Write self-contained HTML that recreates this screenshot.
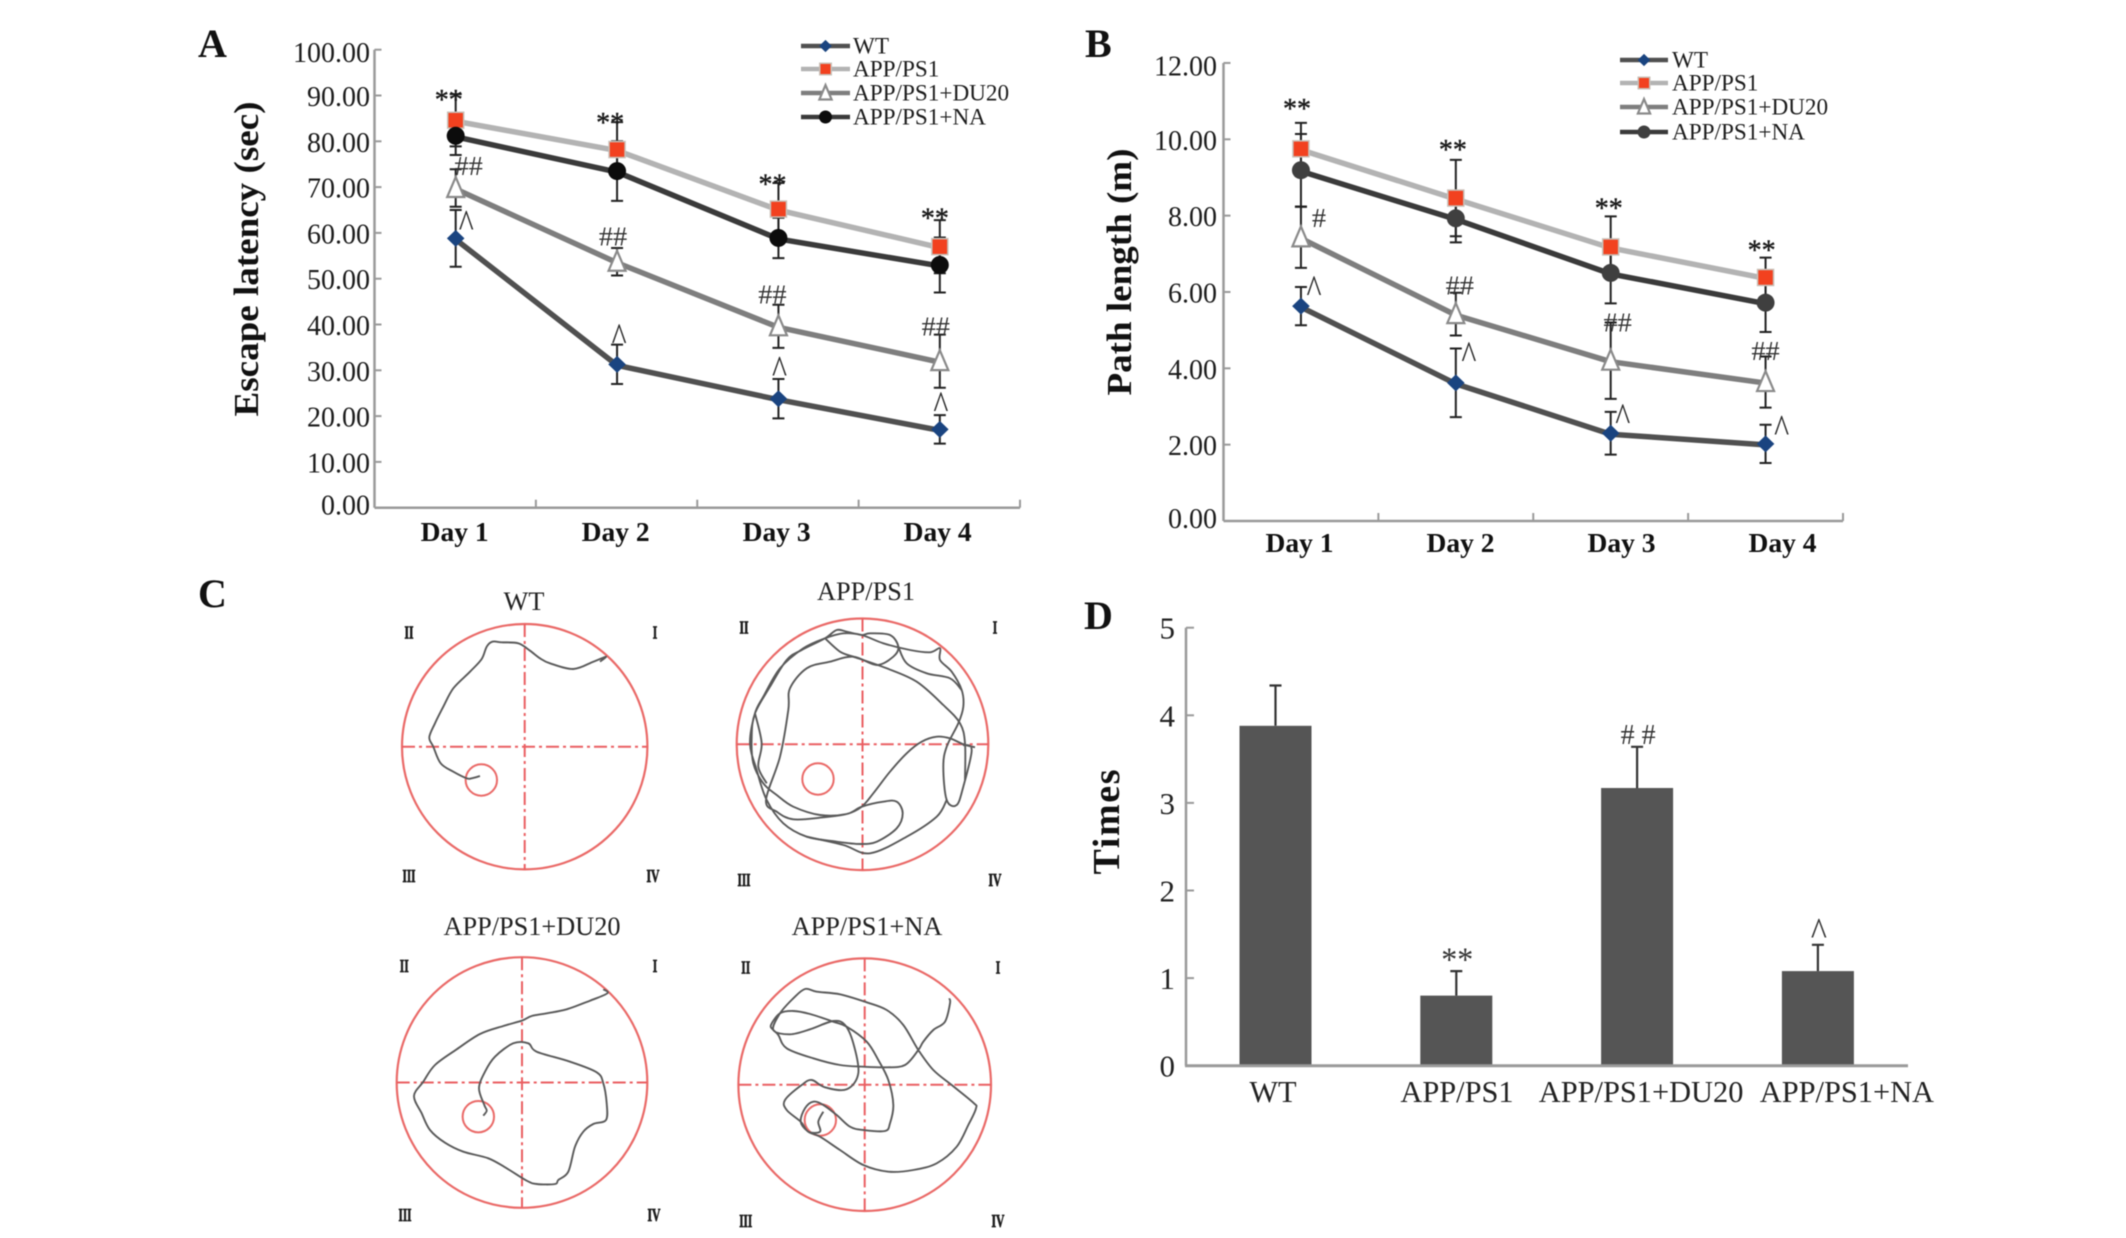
<!DOCTYPE html>
<html lang="en">
<head>
<meta charset="utf-8">
<title>Morris water maze results</title>
<style>
html,body{margin:0;padding:0;background:#fff;}
svg{display:block;font-family:"Liberation Serif",serif;filter:blur(.45px);}
</style>
</head>
<body>
<svg id="figure" xmlns="http://www.w3.org/2000/svg" width="2126" height="1238" viewBox="0 0 2126 1238">
  <rect width="2126" height="1238" fill="#fff"/>
  <text x="198" y="57" font-size="40" font-weight="bold" fill="#111">A</text>
  <text x="1085" y="57" font-size="40" font-weight="bold" fill="#111">B</text>
  <text x="198" y="607" font-size="40" font-weight="bold" fill="#111">C</text>
  <text x="1084" y="629" font-size="40" font-weight="bold" fill="#111">D</text>
  <g id="panel-a"></g>
  <g id="panel-b"></g>
  <g id="panel-c"></g>
  <g id="panel-d"></g>
</svg>
<script>
// ---------- Shared categories ----------
const days = ['Day 1', 'Day 2', 'Day 3', 'Day 4'];
const groups = ['WT', 'APP/PS1', 'APP/PS1+DU20', 'APP/PS1+NA'];

// ---------- Panel A: escape latency ----------
const latencyTicks = ['0.00', '10.00', '20.00', '30.00', '40.00', '50.00', '60.00', '70.00', '80.00', '90.00', '100.00'];
const latencyWT = [58.8, 31.3, 23.8, 17.1];
const latencyAPP = [84.6, 78.2, 65.2, 57.0];
const latencyDU = [69.8, 53.7, 39.6, 32.0];
const latencyNA = [81.2, 73.5, 58.9, 53.0];
const latencyErrWT = [6.2, 4.3, 4.3, 3.1];
const latencyErrAPP = [5.7, 6.0, 5.7, 5.8];
const latencyErrDU = [4.1, 3.0, 4.7, 5.8];
const latencyErrNA = [4.2, 6.5, 4.4, 6.0];
const latencyStars = [89.9, 84.9, 71.5, 64.0];
const latencyHashes = [74.7, 59.2, 46.6, 39.6];
const latencyCarets = [63.0, 38.2, 31.1, 23.4];

// ---------- Panel B: path length ----------
const pathTicks = ['0.00', '2.00', '4.00', '6.00', '8.00', '10.00', '12.00'];
const pathWT = [5.63, 3.62, 2.30, 2.02];
const pathAPP = [9.75, 8.46, 7.18, 6.38];
const pathDU = [7.43, 5.42, 4.20, 3.64];
const pathNA = [9.19, 7.93, 6.50, 5.72];
const pathErrWT = [0.50, 0.90, 0.56, 0.50];
const pathErrAPP = [0.68, 1.00, 0.80, 0.52];
const pathErrDU = [0.80, 0.56, 1.00, 0.67];
const pathErrNA = [0.95, 0.63, 0.80, 0.77];
const pathStars = [10.9, 9.83, 8.3, 7.19];
const pathHashes = [7.94, 6.17, 5.2, 4.46];
const pathCarets = [6.19, 4.46, 2.84, 2.54];

// ---------- Panel D: crossing times ----------
const timesTicks = ['0', '1', '2', '3', '4', '5'];
const timesValues = [3.88, 0.80, 3.17, 1.08];
const timesErrors = [0.46, 0.28, 0.47, 0.30];
const timesMarks = ['', '**', '##', '^'];
const timesMarkLevels = [0, 1.27, 3.78, 1.6];

// ---------- Panel C: swim paths traced in each well's 810-unit frame ----------
const trackWT = [[630,155],[648,140],[610,155],[550,177],[480,160],[450,145],[420,122],[385,100],[335,97],[307,95],[290,110],[275,147],[240,185],[190,235],[160,290],[135,340],[118,382],[130,410],[152,460],[190,485],[230,505],[245,505],[270,498]];
const trackAPP1 = [[735,412],[700,403],[660,385],[620,380],[575,395],[530,430],[480,485],[430,550],[395,590],[350,612],[280,622],[190,628],[140,605],[108,570],[150,440],[175,300],[180,235],[230,175],[300,155],[370,140],[440,165],[490,140],[505,110],[480,75],[420,70],[395,75],[350,65],[320,60],[285,85],[215,120],[170,150],[120,230],[75,310],[65,380],[70,460],[100,520],[140,555],[190,590],[270,615],[350,612],[395,590],[460,575],[500,575],[518,610],[500,655],[440,695],[390,702],[320,695],[230,680],[160,640],[110,570],[80,480],[60,400],[75,310],[100,260],[150,175],[220,115],[285,85],[340,70],[395,75],[460,100],[540,120],[600,127],[630,115],[630,150],[665,185],[695,240],[700,290],[685,340],[650,410],[640,470],[650,570],[680,585],[700,530],[725,420],[700,405]];
const trackAPP2 = [[370,140],[470,175],[560,215],[640,285],[690,340],[705,400],[705,510]];
const trackAPP3 = [[650,570],[620,620],[530,680],[420,730],[340,705],[230,680]];
const trackAPP4 = [[285,85],[330,125],[370,140]];
const trackAPP5 = [[505,110],[530,160],[590,190],[660,205],[695,240]];
const trackAPP6 = [[75,310],[95,400],[85,470],[110,520]];
const trackDU = [[640,118],[652,130],[600,152],[530,178],[470,190],[425,198],[395,212],[340,228],[270,252],[200,298],[135,345],[100,395],[72,438],[95,490],[120,540],[165,578],[220,605],[295,625],[350,655],[410,692],[440,702],[495,702],[505,690],[535,665],[555,590],[580,545],[610,522],[648,510],[650,460],[640,400],[620,367],[540,335],[440,305],[415,280],[370,280],[315,320],[285,365],[267,415],[283,465],[290,482],[280,497]];
const trackNA = [[658,145],[660,160],[645,215],[610,240],[580,275],[565,300],[525,345],[470,352],[400,350],[330,345],[250,325],[170,295],[145,255],[130,240],[123,225],[150,190],[190,183],[240,192],[310,215],[350,230],[410,275],[445,330],[475,390],[490,465],[480,520],[465,543],[400,540],[360,530],[320,495],[280,465],[250,455],[225,475],[212,515],[235,545],[270,560],[330,600],[400,645],[475,665],[550,660],[620,640],[680,590],[715,525],[738,475],[730,458],[665,405],[610,360],[565,300],[520,225],[470,180],[410,157],[330,133],[260,125],[225,117],[190,145],[150,190],[130,240],[180,253],[240,238],[310,213],[345,225],[370,280],[385,370],[350,418],[285,412],[245,390],[215,405],[165,450],[170,480],[212,515],[235,545],[270,545],[265,515],[280,485]];

// ---------- Helpers ----------
const SVGNS = 'http://www.w3.org/2000/svg';
function mk(tag, parent, attrs, content) {
  const node = document.createElementNS(SVGNS, tag);
  for (const k in attrs) node.setAttribute(k, attrs[k]);
  if (content !== undefined) node.textContent = content;
  parent.appendChild(node);
  return node;
}

// Line-chart series styles
const seriesStyles = [
  {line: '#505050', marker: 'diamond', fill: '#1a4480', stroke: '#1a4480'},
  {line: '#b3b3b3', marker: 'square', fill: '#f2411f', stroke: '#c9c0b8'},
  {line: '#7e7e7e', marker: 'triangle', fill: '#ffffff', stroke: '#8a8a8a'},
  {line: '#3a3a3a', marker: 'circle', fill: '#0c0c0c', stroke: '#222222'}
];

function drawMarker(parent, style, x, y, scale, circleFill) {
  let m;
  if (style.marker === 'diamond') {
    m = mk('polygon', parent, {points: `${x},${y-8.5*scale} ${x+8.8*scale},${y} ${x},${y+8.5*scale} ${x-8.8*scale},${y}`, fill: style.fill});
  } else if (style.marker === 'square') {
    m = mk('rect', parent, {x: x-8*scale, y: y-8*scale, width: 16*scale, height: 16*scale, fill: style.fill, stroke: style.stroke, 'stroke-width': 1.5});
  } else if (style.marker === 'triangle') {
    m = mk('polygon', parent, {points: `${x},${y-11*scale} ${x+8.5*scale},${y+9*scale} ${x-8.5*scale},${y+9*scale}`, fill: style.fill, stroke: style.stroke, 'stroke-width': 2.2});
  } else {
    m = mk('circle', parent, {cx: x, cy: y, r: 9*scale, fill: circleFill || style.fill});
  }
  return m;
}

function drawLineChart(cfg) {
  const g = cfg.root;
  const xBand = (cfg.xRight - cfg.xLeft) / cfg.categories.length;
  const xAt = i => cfg.xLeft + xBand * (i + 0.5) + cfg.pointShift;
  const yAt = v => cfg.y0 - v * cfg.yPerUnit;

  // Axes
  const yAxis = mk('line', g, {x1: cfg.xLeft, x2: cfg.xLeft, y1: yAt(cfg.yMax), y2: cfg.y0, stroke: '#9a9a9a', 'stroke-width': 2.5});
  
  
  const xAxis = mk('line', g, {x1: cfg.xLeft, x2: cfg.xRight, y1: cfg.y0, y2: cfg.y0, stroke: '#9a9a9a', 'stroke-width': 2.5});
  
  

  cfg.ticks.forEach(label => {
    const v = parseFloat(label);
    const y = yAt(v);
    const tick = mk('line', g, {x1: cfg.xLeft, x2: cfg.xLeft + 7, y1: y, y2: y, stroke: '#9a9a9a', 'stroke-width': 2});
    
    
    const nudge = v === cfg.yMax ? 3 : v === 0 ? -2.5 : 1;
    const t = mk('text', g, {x: cfg.labelRight, y: y + 9.5 + nudge, 'text-anchor': 'end', 'font-size': 28, fill: '#1c1c1c'}, label);
    
    
  });

  for (let i = 1; i <= cfg.categories.length; i++) {
    const x = cfg.xLeft + xBand * i;
    const tick = mk('line', g, {x1: x, x2: x, y1: cfg.y0 - 8, y2: cfg.y0, stroke: '#9a9a9a', 'stroke-width': 2});
    
    
  }
  cfg.categories.forEach((c, i) => {
    const t = mk('text', g, {x: cfg.labelCenter(i), y: cfg.dayBaseline, 'text-anchor': 'middle', 'font-size': 27.5, 'font-weight': 'bold', fill: '#111'}, c);
    
    
  });

  // Axis title
  const title = mk('text', g, {transform: `translate(${cfg.titleX},${cfg.titleY}) rotate(-90)`, 'text-anchor': 'middle', 'font-size': 35, 'font-weight': 'bold', fill: '#111', textLength: cfg.titleLength, lengthAdjust: 'spacingAndGlyphs'}, cfg.title);
  
  

  // Error bars
  cfg.series.forEach(s => {
    s.values.forEach((v, i) => {
      const x = xAt(i);
      const top = yAt(v + s.errors[i]);
      const bot = yAt(v - s.errors[i]);
      const bar = mk('path', g, {d: `M${x},${top}V${bot}M${x-6},${top}H${x+6}M${x-6},${bot}H${x+6}`, stroke: '#222', 'stroke-width': 2, fill: 'none'});
      
      
    });
  });

  // Lines
  cfg.series.forEach((s, si) => {
    const pts = s.values.map((v, i) => `${xAt(i)},${yAt(v) + 1}`).join(' ');
    const line = mk('polyline', g, {points: pts, fill: 'none', stroke: seriesStyles[si].line, 'stroke-width': 5.5, 'stroke-linejoin': 'round'});
    
    
  });

  // Markers
  cfg.series.forEach((s, si) => {
    s.values.forEach((v, i) => {
      const m = drawMarker(g, seriesStyles[si], xAt(i), yAt(v), 1, cfg.circleFill);
      
      
    });
  });

  // Significance marks
  const annotate = (glyph, levels, dxs, size, mid, len, color, lift, bold) => {
    levels.forEach((lv, i) => {
      const text = Array.isArray(glyph) ? glyph[i] : glyph;
      const w = len * text.length;
      const t = mk('text', g, {x: xAt(i) + dxs[i], y: yAt(lv) + size * mid - lift, 'text-anchor': 'middle', 'font-size': size, fill: color, stroke: color, 'stroke-width': bold, textLength: w, lengthAdjust: 'spacingAndGlyphs'}, text);
      
      
    });
  };
  annotate('**', cfg.stars, cfg.starDx, 28, 0.47, 14, '#1a1a1a', 0, 0.4);
  annotate(cfg.hashGlyphs, cfg.hashes, cfg.hashDx, 27, 0.34, 14.2, '#333', 0, 0);
  annotate('^', cfg.carets, cfg.caretDx, 40, 0.486, 15, '#2a2a2a', 1.5, 0);

  // Legend
  const legend = mk('g', g, {});
  
  
  groups.forEach((name, i) => {
    const y = cfg.legendY[i];
    const entry = mk('g', legend, {});
    
    
    const ln = mk('line', entry, {x1: cfg.legendX1, x2: cfg.legendX2, y1: y, y2: y, stroke: seriesStyles[i].line, 'stroke-width': 4.5});
    
    
    const mx = (cfg.legendX1 + cfg.legendX2) / 2;
    const mark = drawMarker(entry, seriesStyles[i], mx, y, 0.72, cfg.circleFill);
    
    
    const t = mk('text', entry, {x: cfg.legendTextX, y: y + 7.5, 'font-size': 23.2, fill: '#1c1c1c'}, name);
    
    
  });
}

drawLineChart({
  root: document.getElementById('panel-a'),
  categories: days, ticks: latencyTicks, yMax: 100,
  xLeft: 374.5, xRight: 1020, y0: 507.7, yPerUnit: 4.58, pointShift: 0.5,
  labelRight: 370, labelCenter: i => 454.6 + i * 161, dayBaseline: 541,
  title: 'Escape latency (sec)', titleX: 258, titleY: 259, titleLength: 315,
  series: [
    {values: latencyWT, errors: latencyErrWT},
    {values: latencyAPP, errors: latencyErrAPP},
    {values: latencyDU, errors: latencyErrDU},
    {values: latencyNA, errors: latencyErrNA}
  ],
  stars: latencyStars, starDx: [-7, -7, -6, -5],
  hashes: latencyHashes, hashGlyphs: '##', hashDx: [13, -4, -6, -4],
  carets: latencyCarets, caretDx: [10.5, 2, 1, 1],
  legendY: [46, 69, 93, 117], legendX1: 801, legendX2: 850, legendTextX: 853,
  circleFill: '#0c0c0c'
});

drawLineChart({
  root: document.getElementById('panel-b'),
  categories: days, ticks: pathTicks, yMax: 12,
  xLeft: 1223.5, xRight: 1843, y0: 521, yPerUnit: 38.17, pointShift: 0,
  labelRight: 1217, labelCenter: i => 1299.5 + i * 161, dayBaseline: 552,
  title: 'Path length (m)', titleX: 1131, titleY: 272, titleLength: 247,
  series: [
    {values: pathWT, errors: pathErrWT},
    {values: pathAPP, errors: pathErrAPP},
    {values: pathDU, errors: pathErrDU},
    {values: pathNA, errors: pathErrNA}
  ],
  stars: pathStars, starDx: [-4, -3, -2, -4],
  hashes: pathHashes, hashGlyphs: ['#', '##', '##', '##'], hashDx: [18, 4, 7, 0],
  carets: pathCarets, caretDx: [13, 13, 12, 16],
  legendY: [60, 83, 107, 132], legendX1: 1620, legendX2: 1668, legendTextX: 1672,
  circleFill: '#3f3f3f'
});

// ---------- Panel D drawing ----------
(function () {
  const g = document.getElementById('panel-d');
  const xLeft = 1186, xRight = 1908, y0 = 1065.7, yPerUnit = 87.6;
  const barCenter = i => 1275.5 + i * 180.8;
  const labelOffsets = [-2.5, 0.7, 4, 29];
  const yAt = v => y0 - v * yPerUnit;
  const topY = yAt(5);

  const yAxis = mk('line', g, {x1: xLeft, x2: xLeft, y1: topY, y2: y0, stroke: '#9a9a9a', 'stroke-width': 2.5});
  
  

  timesTicks.forEach(label => {
    const v = parseFloat(label);
    const y = yAt(v);
    const tick = mk('line', g, {x1: xLeft, x2: xLeft + 8, y1: y, y2: y, stroke: '#9a9a9a', 'stroke-width': 2});
    
    
    const t = mk('text', g, {x: 1175, y: y + 11, 'text-anchor': 'end', 'font-size': 31, fill: '#222'}, label);
    
    
  });

  const title = mk('text', g, {transform: 'translate(1119,822) rotate(-90)', 'text-anchor': 'middle', 'font-size': 38, 'font-weight': 'bold', fill: '#111', textLength: 105, lengthAdjust: 'spacing'}, 'Times');
  
  

  timesValues.forEach((v, i) => {
    const cx = barCenter(i);
    const top = yAt(v);
    const errTop = yAt(v + timesErrors[i]);
    const err = mk('path', g, {d: `M${cx},${top}V${errTop}M${cx-6},${errTop}H${cx+6}`, stroke: '#333', 'stroke-width': 2.2, fill: 'none'});
    
    
    const bar = mk('rect', g, {x: cx - 36, y: top, width: 72, height: y0 - top, fill: '#555555'});
    
    
    const lab = mk('text', g, {x: cx + labelOffsets[i], y: 1102, 'text-anchor': 'middle', 'font-size': 30.4, fill: '#222'}, groups[i]);
    
    
    const glyph = timesMarks[i];
    if (glyph) {
      const opts = glyph === '^'
        ? {size: 40, mid: 0.486, len: 16}
        : glyph === '**'
          ? {size: 34, mid: 0.47, len: 32}
          : {size: 28, mid: 0.34, len: 35};
      const m = mk('text', g, {x: cx + 1, y: yAt(timesMarkLevels[i]) + opts.size * opts.mid, 'text-anchor': 'middle', 'font-size': opts.size, fill: '#333', textLength: opts.len, lengthAdjust: glyph === '##' ? 'spacing' : 'spacingAndGlyphs'}, glyph);
      
      
    }
  });

  const xAxis = mk('line', g, {x1: xLeft - 1, x2: xRight, y1: y0, y2: y0, stroke: '#9a9a9a', 'stroke-width': 3});
  
  
})();

// ---------- Panel C drawing ----------
(function () {
  const g = document.getElementById('panel-c');
  const wells = [
    {title: 'WT', titleX: 524, titleY: 610, ox: 390, oy: 610, cx: 524.7, cy: 746.7, r: 122.7, px: 274, py: 510, tracks: [trackWT], qx: [409, 655, 409, 653], qy: [632.7, 632.7, 876, 876]},
    {title: 'APP/PS1', titleX: 866, titleY: 600, ox: 730, oy: 610, cx: 862.5, cy: 744.3, r: 125.8, px: 264, py: 507, tracks: [trackAPP1, trackAPP2, trackAPP3, trackAPP4, trackAPP5, trackAPP6], qx: [744, 995, 744, 995], qy: [627.3, 627.3, 880, 880]},
    {title: 'APP/PS1+DU20', titleX: 532, titleY: 935, ox: 390, oy: 950, cx: 522, cy: 1082.5, r: 125.3, px: 265, py: 500, tracks: [trackDU], qx: [404.3, 655, 405, 654], qy: [966, 966, 1215, 1215]},
    {title: 'APP/PS1+NA', titleX: 867, titleY: 935, ox: 730, oy: 950, cx: 864.7, cy: 1084.7, r: 126.3, px: 271, py: 510, tracks: [trackNA], qx: [745.7, 998, 745.7, 998], qy: [967.3, 967.3, 1221, 1221]}
  ];
  const quadrants = [['II', 9], ['I', 4.5], ['III', 13], ['IV', 13]];

  // Catmull-Rom smoothing through the traced points
  function smoothPath(points) {
    let d = `M${points[0][0]},${points[0][1]}`;
    for (let i = 0; i < points.length - 1; i++) {
      const p0 = points[Math.max(i - 1, 0)];
      const p1 = points[i];
      const p2 = points[i + 1];
      const p3 = points[Math.min(i + 2, points.length - 1)];
      const c1x = p1[0] + (p2[0] - p0[0]) / 6;
      const c1y = p1[1] + (p2[1] - p0[1]) / 6;
      const c2x = p2[0] - (p3[0] - p1[0]) / 6;
      const c2y = p2[1] - (p3[1] - p1[1]) / 6;
      d += `C${c1x.toFixed(1)},${c1y.toFixed(1)} ${c2x.toFixed(1)},${c2y.toFixed(1)} ${p2[0].toFixed(1)},${p2[1].toFixed(1)}`;
    }
    return d;
  }

  wells.forEach(w => {
    const X = x => w.ox + x / 3;
    const Y = y => w.oy + y / 3;
    const unit = mk('g', g, {});
    
    

    const title = mk('text', unit, {x: w.titleX, y: w.titleY, 'text-anchor': 'middle', 'font-size': 26.3, fill: '#222'}, w.title);
    
    

    const pool = mk('circle', unit, {cx: w.cx, cy: w.cy, r: w.r, fill: 'none', stroke: '#ea6a68', 'stroke-width': 2.2});
    
    

    const cross = mk('path', unit, {d: `M${w.cx - w.r},${w.cy}H${w.cx + w.r}M${w.cx},${w.cy - w.r}V${w.cy + w.r}`, fill: 'none', stroke: '#ea5f62', 'stroke-width': 2, 'stroke-dasharray': '13 4 3 4'});
    
    

    const platform = mk('circle', unit, {cx: X(w.px), cy: Y(w.py), r: 15.7, fill: 'none', stroke: '#ea6a68', 'stroke-width': 2});
    
    

    w.tracks.forEach(track => {
      const scaled = track.map(c => [X(c[0]), Y(c[1])]);
      const p = mk('path', unit, {d: smoothPath(scaled), fill: 'none', stroke: '#5a5a5a', 'stroke-width': 1.9, 'stroke-linejoin': 'round'});
      
      
    });

    quadrants.forEach((q, i) => {
      const t = mk('text', unit, {x: w.qx[i], y: w.qy[i] + 6, 'text-anchor': 'middle', 'font-size': 18, 'font-weight': 'bold', fill: '#1c1c1c', stroke: '#1c1c1c', 'stroke-width': 0.7, textLength: q[1], lengthAdjust: 'spacingAndGlyphs'}, q[0]);
      
      
    });
  });
})();
</script>
</body>
</html>
